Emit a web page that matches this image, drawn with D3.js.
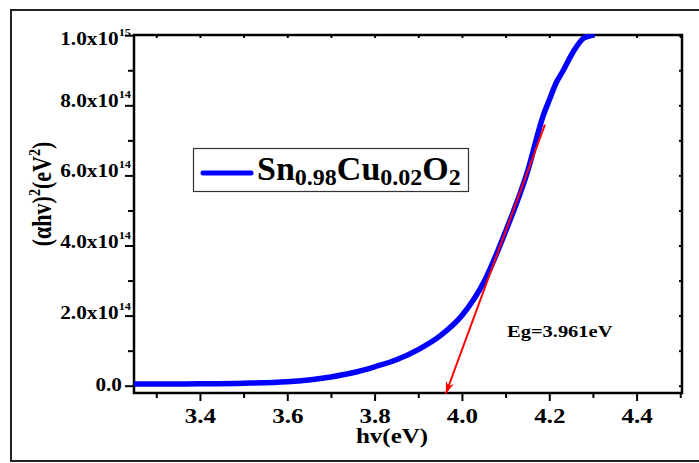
<!DOCTYPE html>
<html>
<head>
<meta charset="utf-8">
<script src="https://cdn.jsdelivr.net/npm/d3@7/dist/d3.min.js"></script>
<style>
  html, body { margin: 0; padding: 0; background: #fff; }
  svg { display: block; }
  text { font-family: "Liberation Serif", "Times New Roman", serif; font-weight: bold; fill: #000; }
</style>
</head>
<body>
<svg id="chart" width="699" height="463"></svg>
<script>
// ---------- data ----------
const energy = [3.25, 3.3, 3.4, 3.5, 3.6, 3.65, 3.7, 3.75, 3.8, 3.85, 3.9, 3.95, 4.0, 4.05, 4.1, 4.15, 4.186, 4.2, 4.217, 4.23, 4.255, 4.278, 4.298];
const absorption = [0.05e14, 0.05e14, 0.055e14, 0.07e14, 0.11e14, 0.165e14, 0.25e14, 0.37e14, 0.54e14, 0.74e14, 1.03e14, 1.42e14, 2.0e14, 2.95e14, 4.4e14, 6.1e14, 7.7e14, 8.15e14, 8.67e14, 8.95e14, 9.53e14, 9.91e14, 10.0e14];
const tangentX = [4.19, 3.963];
const tangentY = [7.45e14, -2.3e13];
const seriesName = ["Sn", "0.98", "Cu", "0.02", "O", "2"];
const gapLabel = "Eg=3.961eV";
const xTicksMajor = [3.4, 3.6, 3.8, 4.0, 4.2, 4.4];
const xTicksMinor = [3.3, 3.5, 3.7, 3.9, 4.1, 4.3, 4.5];
const xTickLabels = ["3.4", "3.6", "3.8", "4.0", "4.2", "4.4"];
const yTicksMajor = [0, 2e14, 4e14, 6e14, 8e14, 1e15];
const yTicksMinor = [1e14, 3e14, 5e14, 7e14, 9e14];
const yTickMantissa = ["0.0", "2.0x10", "4.0x10", "6.0x10", "8.0x10", "1.0x10"];
const yTickExponent = ["", "14", "14", "14", "14", "15"];
const xTitle = "hv(eV)";

// ---------- layout ----------
const svg = d3.select("#chart");
const L = 134, R = 682, T = 35, B = 393;
const x = d3.scaleLinear().domain([3.249, 4.504]).range([L, R]);
const y = d3.scaleLinear().domain([-2.08e13, 1.0006e15]).range([B, T]);
const SX = 1.25; // horizontal stretch of the original bitmap

// outer frame
svg.append("rect").attr("x", 11).attr("y", 10).attr("width", 720).attr("height", 451)
  .attr("fill", "none").attr("stroke", "#222").attr("stroke-width", 2);

// clip
svg.append("clipPath").attr("id", "plotclip").append("rect")
  .attr("x", L).attr("y", T - 1).attr("width", R - L).attr("height", B - T + 6);

// ---------- axes ----------
const axisStyle = g => { g.select(".domain").remove(); g.selectAll("line").attr("stroke", "#000").attr("stroke-width", 2); };

// bottom major
svg.append("g").attr("transform", `translate(0,${B})`)
  .call(d3.axisBottom(x).tickValues(xTicksMajor).tickSize(8).tickFormat((d, i) => xTickLabels[i]))
  .call(axisStyle)
  .call(g => g.selectAll("text").attr("y", 0).attr("dy", null)
    .attr("transform", `translate(0,30) scale(${SX},1)`).attr("font-size", 20).attr("fill", "#000"));
// bottom minor
svg.append("g").attr("transform", `translate(0,${B})`)
  .call(d3.axisBottom(x).tickValues(xTicksMinor).tickSize(5).tickFormat(""))
  .call(axisStyle);
// top inward ticks
svg.append("g").attr("transform", `translate(0,${T})`)
  .call(d3.axisTop(x).tickValues(xTicksMajor.concat(xTicksMinor)).tickSize(-3).tickFormat(""))
  .call(axisStyle);
// left major
const yOff = [5, 3, 1.5, 1, 0.7, 9];
svg.append("g").attr("transform", `translate(${L},0)`)
  .call(d3.axisLeft(y).tickValues(yTicksMajor).tickSize(9).tickFormat(""))
  .call(axisStyle)
  .call(g => g.selectAll(".tick").each(function (d, i) {
    const t = d3.select(this).append("text")
      .attr("text-anchor", "end")
      .attr("transform", `translate(${yTickExponent[i] ? -3 : -12},${yOff[i]}) scale(1.12,1)`)
      .attr("font-size", 19);
    t.append("tspan").text(yTickMantissa[i]);
    if (yTickExponent[i]) t.append("tspan").attr("font-size", 11).attr("dy", -9).text(yTickExponent[i]);
  }));
// left minor
svg.append("g").attr("transform", `translate(${L},0)`)
  .call(d3.axisLeft(y).tickValues(yTicksMinor).tickSize(6).tickFormat(""))
  .call(axisStyle);
// right inward ticks
svg.append("g").attr("transform", `translate(${R},0)`)
  .call(d3.axisRight(y).tickValues(yTicksMajor.concat(yTicksMinor)).tickSize(-3).tickFormat(""))
  .call(axisStyle);

// plot frame
svg.append("rect").attr("x", L).attr("y", T).attr("width", R - L).attr("height", B - T)
  .attr("fill", "none").attr("stroke", "#000").attr("stroke-width", 2.5);

// ---------- series ----------
const pts = energy.map((e, i) => [e, absorption[i]]);
svg.append("path").datum(pts)
  .attr("clip-path", "url(#plotclip)")
  .attr("fill", "none").attr("stroke", "#0000ff").attr("stroke-width", 5.5)
  .attr("stroke-linejoin", "round").attr("stroke-linecap", "round")
  .attr("d", d3.line().x(d => x(d[0])).y(d => y(d[1])).curve(d3.curveMonotoneX));

// tangent arrow
svg.append("defs").append("marker").attr("id", "arrow")
  .attr("viewBox", "0 0 10 10").attr("refX", 10).attr("refY", 5)
  .attr("markerWidth", 12).attr("markerHeight", 12).attr("markerUnits", "userSpaceOnUse")
  .attr("orient", "auto")
  .append("path").attr("d", "M0,1.5 L10,5 L0,8.5 L3,5 Z").attr("fill", "#ff0000");
svg.append("line")
  .attr("x1", x(tangentX[0])).attr("y1", y(tangentY[0]))
  .attr("x2", x(tangentX[1])).attr("y2", y(tangentY[1]))
  .attr("stroke", "#ff0000").attr("stroke-width", 2).attr("marker-end", "url(#arrow)");

// Eg label
svg.append("text").attr("transform", `translate(507,337) scale(1.28,1)`)
  .attr("font-size", 16).text(gapLabel);

// ---------- legend ----------
svg.append("rect").attr("x", 193.5).attr("y", 148.5).attr("width", 275).attr("height", 43)
  .attr("fill", "#fff").attr("stroke", "#333").attr("stroke-width", 1.2);
svg.append("line").attr("x1", 203).attr("x2", 251).attr("y1", 173).attr("y2", 173)
  .attr("stroke", "#0000ff").attr("stroke-width", 5).attr("stroke-linecap", "round");
const lt = svg.append("text").attr("x", 257).attr("y", 180).attr("font-size", 34);
seriesName.forEach((s, i) => {
  const sub = i % 2 === 1;
  lt.append("tspan").attr("font-size", sub ? 24 : 34).attr("dy", i === 0 ? 0 : (sub ? 5 : -5)).text(s);
});

// ---------- axis titles ----------
svg.append("text").attr("transform", `translate(392,443) scale(${SX},1)`)
  .attr("text-anchor", "middle").attr("font-size", 20).text(xTitle);

const yt = svg.append("text").attr("transform", `translate(51,194) scale(${SX},1) rotate(-90)`)
  .attr("text-anchor", "middle").attr("font-size", 22);
yt.append("tspan").text("(\u03B1hv)");
yt.append("tspan").attr("font-size", 14).attr("dy", -9).text("2");
yt.append("tspan").attr("dy", 9).text("(eV");
yt.append("tspan").attr("font-size", 14).attr("dy", -9).text("2");
yt.append("tspan").attr("dy", 9).text(")");
</script>
</body>
</html>
